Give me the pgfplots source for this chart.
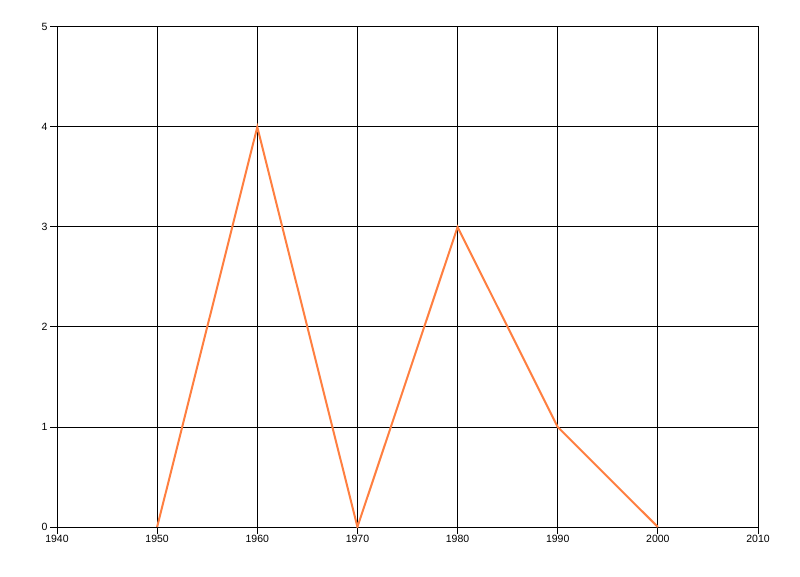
\documentclass[border=0pt]{standalone}
\usepackage{fontspec}
\setmainfont{Liberation Sans}
\usepackage{pgfplots}
\pgfplotsset{compat=1.18}
\definecolor{lineorange}{HTML}{FF7F40}
\begin{document}
\begin{tikzpicture}[x=1pt,y=1pt]
\useasboundingbox (0,0) rectangle (800,576);
\begin{axis}[
  at={(57pt,49pt)}, anchor=south west,
  scale only axis, width=701pt, height=500pt,
  xmin=1940, xmax=2010, ymin=0, ymax=5,
  xtick={1940,1950,...,2010}, ytick={0,1,...,5},
  grid=major, grid style={black, line width=1pt},
  axis line style={black, line width=1pt},
  tick style={black, line width=1pt},
  tick align=outside, major tick length=7pt,
  xtick pos=bottom, ytick pos=left,
  /pgf/number format/1000 sep={},
  /pgf/number format/assume math mode=true,
  tick label style={font=\fontsize{10.5}{12}\selectfont},
  xticklabel style={yshift=2pt},
  yticklabel style={xshift=1pt},
]
\addplot[lineorange, line width=2pt] coordinates {
  (1950,0) (1960,4) (1970,0) (1980,3) (1990,1) (2000,0)
};
\end{axis}
\end{tikzpicture}
\end{document}
